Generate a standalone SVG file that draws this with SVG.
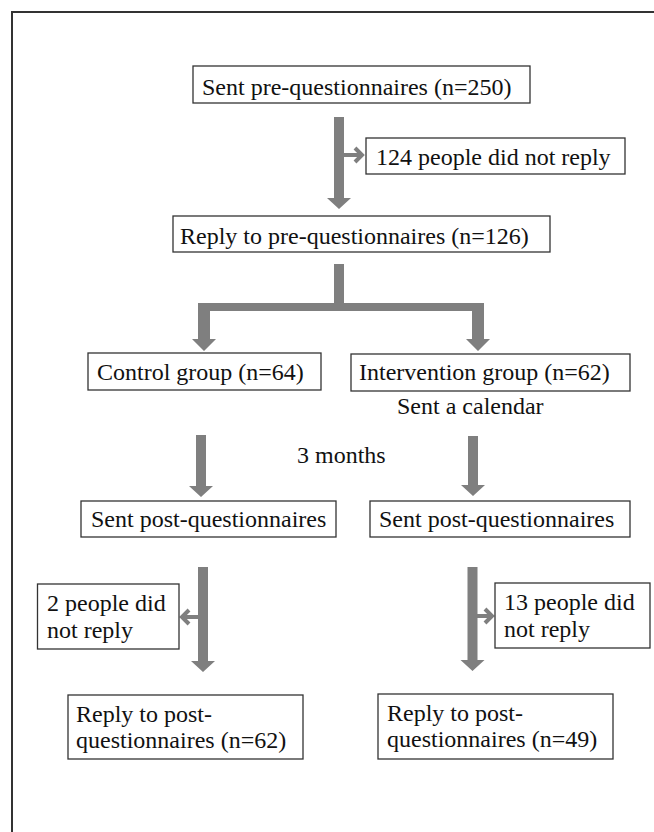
<svg xmlns="http://www.w3.org/2000/svg" width="654" height="832" viewBox="0 0 654 832">
<style>
.box{fill:#fff;stroke:#333;stroke-width:1.3}
.t{font-family:"Liberation Serif","Times New Roman",serif;font-size:24px;fill:#111}
.arr{fill:#7f7f7f}
.side{fill:none;stroke:#7f7f7f;stroke-width:4;stroke-linejoin:miter}
</style>
<rect width="654" height="832" fill="#fff"/>
<path d="M12,840 V12 H660" fill="none" stroke="#333" stroke-width="2"/>
<g id="connectors">
<polygon class="arr" points="334,117 344,117 344,198 351,198 339,209 327,198 334,198"/>
<path class="side" d="M344,155 H361 M355,148 L362,155 L355,162"/>
<polygon class="arr" points="334,264 344,264 344,303 484,303 484,339 490,339 478,351 466,339 472,339 472,311 210,311 210,339 216,339 204,351 192,339 198,339 198,303 334,303"/>
<polygon class="arr" points="196,435 206,435 206,486 213,486 201,497 189,486 196,486"/>
<polygon class="arr" points="468,436 478,436 478,485 485,485 473,496 461,485 468,485"/>
<polygon class="arr" points="198,567 208,567 208,661 215,661 203,672 191,661 198,661"/>
<path class="side" d="M198,617 H183 M189,610 L182,617 L189,624"/>
<polygon class="arr" points="467.5,567 477.5,567 477.5,660 484.5,660 472.5,671 460.5,660 467.5,660"/>
<path class="side" d="M477,616 H491 M485,609 L492,616 L485,623"/>
</g>
<g id="sent-pre"><rect class="box" x="193" y="66" width="337" height="37"/><text class="t" x="202" y="95">Sent pre-questionnaires (n=250)</text></g>
<g id="no-reply-124"><rect class="box" x="366" y="138" width="259" height="36"/><text class="t" x="376" y="165">124 people did not reply</text></g>
<g id="reply-pre"><rect class="box" x="173" y="216" width="377" height="36"/><text class="t" x="180" y="244">Reply to pre-questionnaires (n=126)</text></g>
<g id="control"><rect class="box" x="88" y="353" width="233" height="37"/><text class="t" x="97" y="380">Control group (n=64)</text></g>
<g id="intervention"><rect class="box" x="351" y="354" width="279" height="37"/><text class="t" x="359" y="380">Intervention group (n=62)</text></g>
<g id="calendar"><text class="t" x="397" y="414">Sent a calendar</text></g>
<g id="months"><text class="t" x="297" y="463">3 months</text></g>
<g id="sent-post-control"><rect class="box" x="81" y="501" width="255" height="36"/><text class="t" x="91" y="527">Sent post-questionnaires</text></g>
<g id="sent-post-intervention"><rect class="box" x="370" y="501" width="260" height="36"/><text class="t" x="379" y="527">Sent post-questionnaires</text></g>
<g id="no-reply-2"><rect class="box" x="37.5" y="584" width="141.5" height="65"/><text class="t" x="47" y="611">2 people did</text><text class="t" x="47" y="638">not reply</text></g>
<g id="no-reply-13"><rect class="box" x="495" y="583" width="155" height="65"/><text class="t" x="504" y="610">13 people did</text><text class="t" x="504" y="637">not reply</text></g>
<g id="reply-post-control"><rect class="box" x="68" y="695" width="235" height="64"/><text class="t" x="76" y="722">Reply to post-</text><text class="t" x="76" y="748">questionnaires (n=62)</text></g>
<g id="reply-post-intervention"><rect class="box" x="378" y="694" width="235" height="65"/><text class="t" x="387" y="721">Reply to post-</text><text class="t" x="387" y="747">questionnaires (n=49)</text></g>
</svg>
